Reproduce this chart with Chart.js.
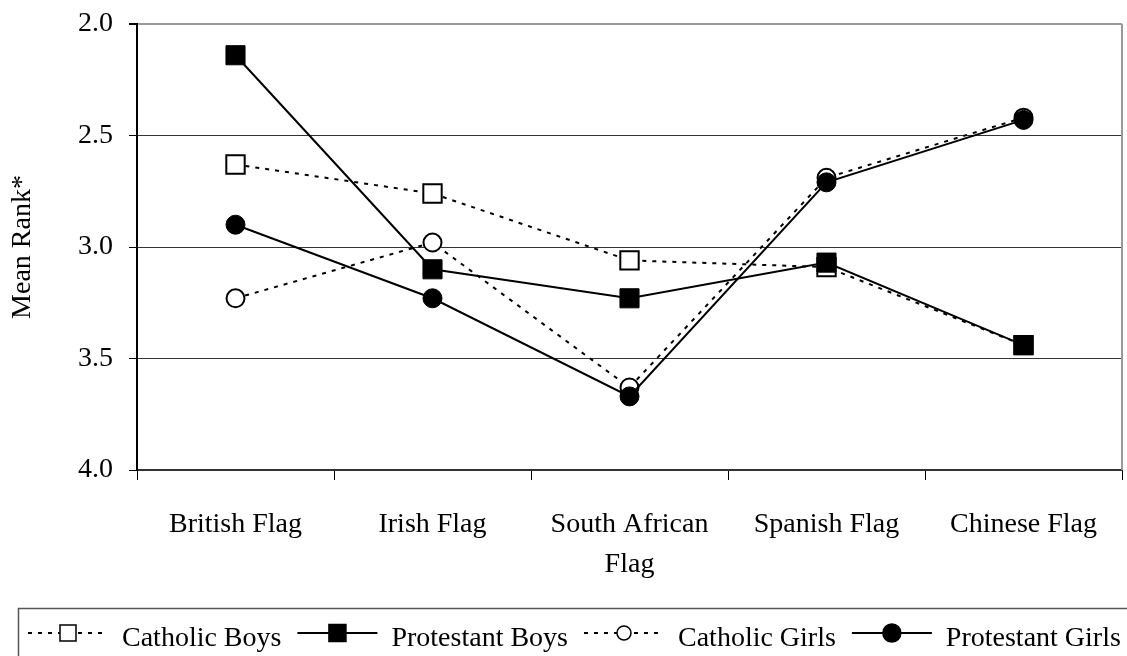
<!DOCTYPE html>
<html>
<head>
<meta charset="utf-8">
<script src="https://cdn.jsdelivr.net/npm/chart.js@4/dist/chart.umd.min.js"></script>
<style>
  html, body { margin: 0; padding: 0; background: #fff; }
  #chart { display: block; }
</style>
</head>
<body>
<canvas id="chart" width="1127" height="656"></canvas>
<script>
// Data
const flags = ['British Flag', 'Irish Flag', ['South African', 'Flag'], 'Spanish Flag', 'Chinese Flag'];
const catholicBoys = [2.63, 2.76, 3.06, 3.09, 3.44];
const protestantBoys = [2.14, 3.10, 3.23, 3.07, 3.44];
const catholicGirls = [3.23, 2.98, 3.63, 2.69, 2.42];
const protestantGirls = [2.90, 3.23, 3.67, 2.71, 2.43];
const yTicks = [2.0, 2.5, 3.0, 3.5, 4.0];

const serif = '"Liberation Serif", "Times New Roman", serif';

// gray right frame + boxed legend at the bottom
const frameAndLegend = {
  id: 'frameAndLegend',
  afterDraw(chart) {
    const { ctx, chartArea } = chart;
    ctx.save();
    ctx.strokeStyle = '#9a9a9a';
    ctx.lineWidth = 2;
    ctx.beginPath();
    ctx.moveTo(chartArea.right, chartArea.top);
    ctx.lineTo(chartArea.right, chartArea.bottom);
    ctx.stroke();

    // legend box
    ctx.strokeStyle = '#555';
    ctx.lineWidth = 1.5;
    ctx.strokeRect(18.5, 608.5, 1200, 100);

    ctx.font = '28px ' + serif;
    ctx.textBaseline = 'alphabetic';
    ctx.fillStyle = '#000';
    let x = 28;
    const y = 633;
    chart.data.datasets.forEach(ds => {
      ctx.setLineDash(ds.borderDash || []);
      ctx.lineWidth = ds.borderWidth;
      ctx.strokeStyle = '#000';
      ctx.beginPath();
      ctx.moveTo(x, y);
      ctx.lineTo(x + 80, y);
      ctx.stroke();
      ctx.setLineDash([]);

      const cx = x + 40;
      const r = ds.legendRadius;
      ctx.beginPath();
      if (ds.pointStyle === 'rect') {
        ctx.rect(cx - r, y - r, 2 * r, 2 * r);
      } else {
        ctx.arc(cx, y, r, 0, Math.PI * 2);
      }
      ctx.fillStyle = ds.pointBackgroundColor;
      ctx.fill();
      ctx.lineWidth = 1.5;
      ctx.strokeStyle = '#000';
      ctx.stroke();

      ctx.fillStyle = '#000';
      const tx = x + 94;
      ctx.fillText(ds.label, tx, 646);
      x = tx + ctx.measureText(ds.label).width + 16;
    });
    ctx.restore();
  }
};

const ctx = document.getElementById('chart');

new Chart(ctx, {
  type: 'line',
  data: {
    labels: flags,
    datasets: [
      {
        label: 'Catholic Boys',
        data: catholicBoys,
        borderColor: '#000',
        borderWidth: 2,
        borderDash: [4, 6],
        pointStyle: 'rect',
        pointRadius: 13,
        pointBackgroundColor: '#fff',
        pointBorderColor: '#000',
        pointBorderWidth: 2,
        legendRadius: 8,
        order: 4
      },
      {
        label: 'Protestant Boys',
        data: protestantBoys,
        borderColor: '#000',
        borderWidth: 2,
        pointStyle: 'rect',
        pointRadius: 13.5,
        pointBackgroundColor: '#000',
        pointBorderColor: '#000',
        pointBorderWidth: 1,
        legendRadius: 8.5,
        order: 3
      },
      {
        label: 'Catholic Girls',
        data: catholicGirls,
        borderColor: '#000',
        borderWidth: 2,
        borderDash: [4, 6],
        pointStyle: 'circle',
        pointRadius: 9,
        pointBackgroundColor: '#fff',
        pointBorderColor: '#000',
        pointBorderWidth: 2,
        legendRadius: 7,
        order: 2
      },
      {
        label: 'Protestant Girls',
        data: protestantGirls,
        borderColor: '#000',
        borderWidth: 2,
        pointStyle: 'circle',
        pointRadius: 9.5,
        pointBackgroundColor: '#000',
        pointBorderColor: '#000',
        pointBorderWidth: 1,
        legendRadius: 9,
        order: 1
      }
    ]
  },
  options: {
    responsive: false,
    animation: false,
    devicePixelRatio: 1,
    layout: {
      autoPadding: false,
      padding: { top: 24, right: 5, bottom: 0, left: 0 }
    },
    scales: {
      x: {
        offset: true,
        grid: {
          offset: true,
          drawOnChartArea: false,
          tickLength: 10,
          color: '#000',
          lineWidth: 1
        },
        border: { color: '#333', width: 2 },
        ticks: {
          font: { family: serif, size: 28, lineHeight: 1.43 },
          color: '#000',
          padding: 25,
          maxRotation: 0,
          autoSkip: false
        },
        afterFit(scale) {
          scale.height = 186;
          scale.paddingLeft = 0;
          scale.paddingRight = 0;
        }
      },
      y: {
        reverse: true,
        min: 2,
        max: 4,
        afterBuildTicks(scale) { scale.ticks = yTicks.map(v => ({ value: v })); },
        grid: {
          color: c => (c.tick && c.tick.value === 2 ? '#9a9a9a' : '#333'),
          lineWidth: c => (c.tick && c.tick.value === 2 ? 2 : 1),
          tickColor: '#000',
          tickLength: 8
        },
        border: { color: '#000', width: 2 },
        ticks: {
          font: { family: serif, size: 28 },
          color: '#000',
          padding: 16,
          callback: v => Number(v).toFixed(1)
        },
        title: {
          display: true,
          text: 'Mean Rank*',
          font: { family: serif, size: 28 },
          color: '#000',
          padding: { top: 6, bottom: 0 }
        },
        afterFit(scale) {
          scale.width = 137;
          scale.paddingTop = 0;
          scale.paddingBottom = 0;
        }
      }
    },
    plugins: {
      legend: { display: false },
      tooltip: { enabled: false }
    }
  },
  plugins: [frameAndLegend]
});
</script>
</body>
</html>
